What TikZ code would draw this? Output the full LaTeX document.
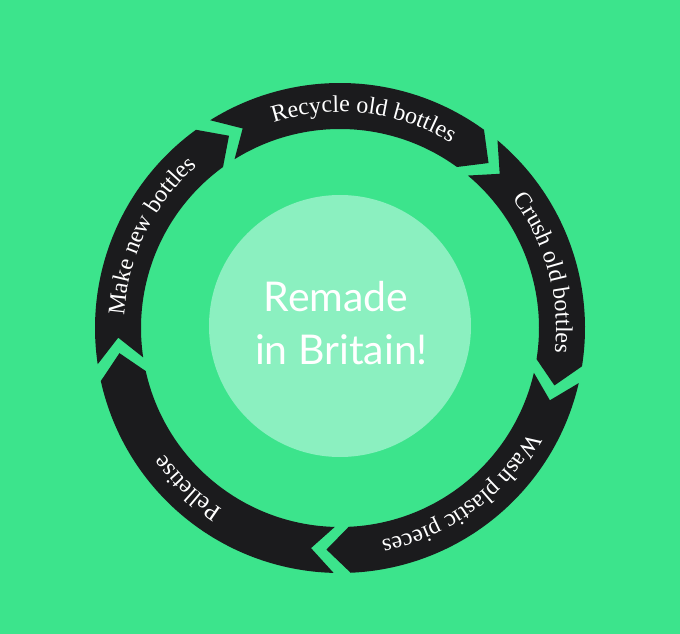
\documentclass[tikz,border=0pt]{standalone}
\usepackage{fontspec}
\newfontfamily\centerfont{Lato}
\newfontfamily\ringfont{Liberation Serif}
\usetikzlibrary{decorations.text}
\definecolor{bggreen}{HTML}{3CE48C}
\definecolor{mint}{HTML}{8BF0C0}
\definecolor{band}{HTML}{1B1B1D}
\tikzset{
  segfill/.style={fill=band},
  ringtext/.style={decorate, decoration={text along path, text align=center,
     text={|\ringfont\fontsize{24}{28}\selectfont\color{white}|#1}}},
  hubtext/.style={anchor=base, text=white, font=\centerfont\fontsize{41}{41}\selectfont}
}
\begin{document}
\begin{tikzpicture}[x=1pt,y=1pt]
\fill[bggreen] (-340,-306) rectangle (340,328);
\useasboundingbox (-340,-306) rectangle (340,328);
\def\Ro{245}
\def\Ri{199}
\def\Rm{222}
\def\dd{6}
\foreach \T/\H in {122/54, 50/-9, -13/-87.5, -91.5/-167.5, 188.5/126} {
  \fill[segfill] (\T:\Ro) arc[start angle=\T, end angle=\H, radius=\Ro]
    -- ({\H-\dd}:\Rm) -- (\H:\Ri)
    arc[start angle=\H, end angle=\T, radius=\Ri]
    -- ({\T-\dd}:\Rm) -- cycle;
}
\node[circle, fill=mint, minimum size=262pt, inner sep=0pt] (hub) at (0,2) {};
\node[hubtext] (line1) at (-4,16.5) {Remade};
\node[hubtext] (line2) at (1.5,-37) {in Britain!};
\def\Rt{216}
\path[ringtext={Recycle old bottles}] (118.5:\Rt) arc[start angle=118.5, end angle=48.5, radius=\Rt];
\path[ringtext={Crush old bottles}] (50.2:\Rt) arc[start angle=50.2, end angle=-19.8, radius=\Rt];
\path[ringtext={Wash plastic pieces}] (-18.9:\Rt) arc[start angle=-18.9, end angle=-88.9, radius=\Rt];
\path[ringtext={Pelletise}] (-103.6:\Rt) arc[start angle=-103.6, end angle=-163.6, radius=\Rt];
\path[ringtext={Make new bottles}] (189:\Rt) arc[start angle=189, end angle=119, radius=\Rt];
\end{tikzpicture}
\end{document}
